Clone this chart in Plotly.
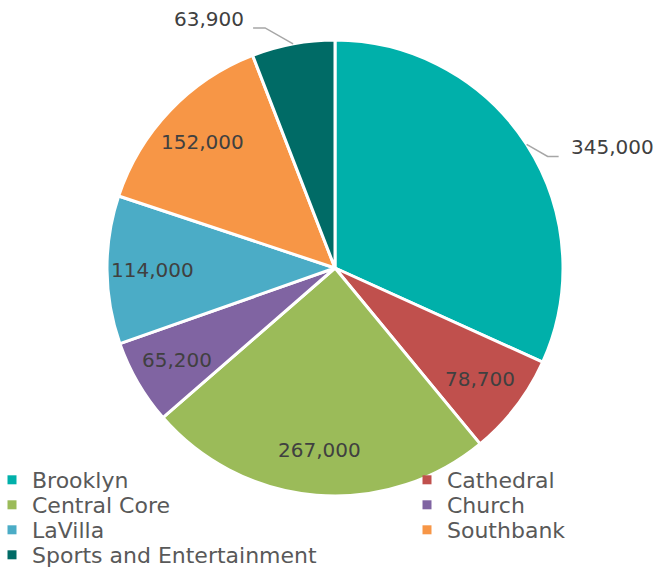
import math
import plotly.graph_objects as go

# Neighbourhood totals
districts = ["Brooklyn", "Cathedral", "Central Core", "Church", "LaVilla",
             "Southbank", "Sports and Entertainment"]
totals = [345000, 78700, 267000, 65200, 114000, 152000, 63900]
colors = ["#00B0AA", "#C0504D", "#9BBB59", "#8064A2", "#4BACC6",
          "#F79646", "#006B66"]
# slices whose value label sits outside the pie with a leader line:
# (elbow dx, elbow dy, horizontal run) in pixels
outside = {"Brooklyn": (21, 12, 11), "Sports and Entertainment": (-28, -16, -12)}

W, H = 658, 572
CX, CY, R = 335, 268, 228
FONT = "DejaVu Sans"
TEXT_GREY = "#404040"
LEGEND_TOP, ROW_H = 459, 25
COL_X = [-8, 407]

fig = go.Figure(go.Pie(
    labels=districts,
    values=totals,
    sort=False,
    direction="clockwise",
    rotation=0,
    marker=dict(colors=colors, line=dict(color="white", width=3)),
    textinfo="none",
    hoverinfo="label+value",
    showlegend=False,
    domain=dict(x=[(CX - R) / W, (CX + R) / W], y=[1 - (CY + R) / H, 1 - (CY - R) / H]),
))

# legend in two columns, filled row by row; one legend box per entry
legend_layouts = {}
for i, (name, col) in enumerate(zip(districts, colors)):
    key = "legend" if i == 0 else f"legend{i + 1}"
    fig.add_trace(go.Scatter(
        x=[None], y=[None], mode="markers", name=name,
        marker=dict(symbol="square", size=9, color=col),
        legend=key, hoverinfo="skip",
    ))
    row, column = divmod(i, 2)
    legend_layouts[key] = dict(
        orientation="v", xanchor="left", yanchor="top",
        x=COL_X[column] / W, y=1 - (LEGEND_TOP + row * ROW_H) / H,
        itemwidth=30,
        font=dict(family=FONT, size=22, color="#595959"),
        bgcolor="rgba(0,0,0,0)",
    )

def to_paper(px, py):
    return px / W, 1 - py / H

total = sum(totals)
cum = 0.0
annotations = []
shapes = []
for name, v in zip(districts, totals):
    frac = v / total
    mid = (cum + frac / 2) * 2 * math.pi
    cum += frac
    sx, sy = math.sin(mid), -math.cos(mid)
    label = f"{v:,}"
    if name in outside:
        dx, dy, hx = outside[name]
        ex, ey = CX + R * sx, CY + R * sy
        bx, by = ex + dx, ey + dy
        tx, ty = bx + hx, by
        pts = [(ex, ey), (bx, by), (tx, ty)]
        path = "M " + " L ".join(f"{p[0] / W},{1 - p[1] / H}" for p in pts)
        shapes.append(dict(type="path", path=path, xref="paper", yref="paper",
                           line=dict(color="#A6A6A6", width=1.5)))
        ax, ay = to_paper(tx + (10 if hx > 0 else -7), ty - 9)
        annotations.append(dict(x=ax, y=ay, xref="paper", yref="paper", text=label,
                                showarrow=False, yanchor="middle",
                                xanchor="left" if hx > 0 else "right",
                                font=dict(family=FONT, size=20, color=TEXT_GREY)))
    else:
        r = 0.8 * R
        ax, ay = to_paper(CX + r * sx, CY + r * sy)
        annotations.append(dict(x=ax, y=ay, xref="paper", yref="paper", text=label,
                                showarrow=False, xanchor="center", yanchor="middle",
                                font=dict(family=FONT, size=20, color=TEXT_GREY)))

fig.update_layout(
    width=W, height=H,
    margin=dict(l=0, r=0, t=0, b=0, autoexpand=False),
    paper_bgcolor="white",
    plot_bgcolor="white",
    xaxis=dict(visible=False),
    yaxis=dict(visible=False),
    annotations=annotations,
    shapes=shapes,
    **legend_layouts,
)

fig.write_html("out.html")
